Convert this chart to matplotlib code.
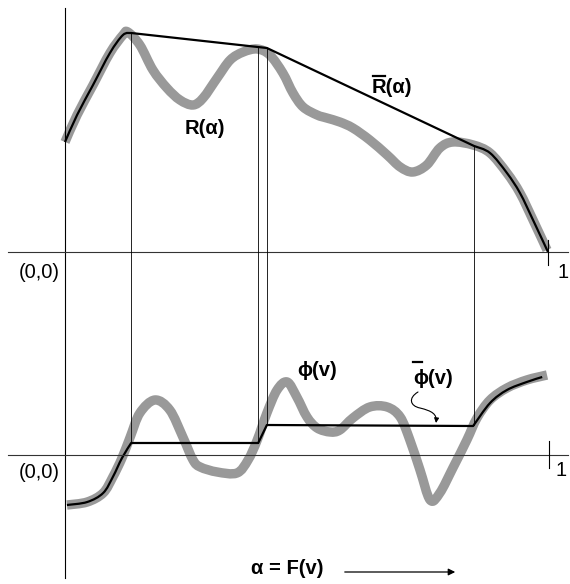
import numpy as np
import matplotlib
matplotlib.use("Agg")
import matplotlib.pyplot as plt
from matplotlib.path import Path
from matplotlib.patches import FancyArrowPatch, PathPatch

plt.rcParams['font.family'] = ['Liberation Sans', 'DejaVu Sans']

# ---- data (alpha in [0,1]) ----
alpha_R = [0.000, 0.025, 0.058, 0.093, 0.120, 0.130, 0.155, 0.182, 0.211,
           0.238, 0.265, 0.286, 0.315, 0.342, 0.369, 0.398, 0.424, 0.451, 0.472,
           0.493, 0.522, 0.542, 0.569, 0.596, 0.631, 0.667, 0.694, 0.720, 0.749,
           0.776, 0.803, 0.845, 0.880, 0.915, 0.942, 0.969, 0.998]
R_vals = [1.10, 1.37, 1.67, 1.99, 2.17, 2.20, 2.07, 1.82, 1.64,
          1.52, 1.47, 1.54, 1.74, 1.92, 2.00, 2.03, 1.97, 1.79, 1.59,
          1.45, 1.37, 1.34, 1.30, 1.24, 1.12, 0.97, 0.85, 0.80, 0.87,
          1.04, 1.10, 1.07, 0.99, 0.79, 0.59, 0.32, 0.02]

alpha_Rbar = [0.000, 0.025, 0.058, 0.093, 0.120, 0.137, 0.418, 0.847,
              0.880, 0.915, 0.942, 0.969, 1.000]
Rbar_vals = [1.10, 1.37, 1.67, 1.99, 2.17, 2.19, 2.04, 1.06,
             0.99, 0.79, 0.59, 0.32, 0.00]
Rbar_corners = [5, 6, 7]

alpha_phi = [0.004, 0.046, 0.079, 0.099, 0.118, 0.135, 0.155, 0.186, 0.217, 0.244,
             0.265, 0.280, 0.315, 0.356, 0.379, 0.398, 0.418, 0.439, 0.460, 0.480,
             0.501, 0.522, 0.549, 0.569, 0.596, 0.631, 0.667, 0.694, 0.714, 0.735,
             0.756, 0.776, 0.803, 0.832, 0.853, 0.880, 0.915, 0.956, 0.998]
phi_vals = [-0.50, -0.47, -0.38, -0.22, -0.03, 0.18, 0.42, 0.55, 0.45, 0.18,
            -0.05, -0.12, -0.17, -0.18, -0.05, 0.15, 0.42, 0.65, 0.73, 0.58,
            0.38, 0.27, 0.23, 0.25, 0.37, 0.48, 0.48, 0.38, 0.15, -0.15,
            -0.45, -0.38, -0.13, 0.15, 0.37, 0.55, 0.67, 0.75, 0.80]

alpha_phibar = [0.004, 0.046, 0.079, 0.099, 0.118, 0.137, 0.400, 0.418, 0.845,
                0.880, 0.915, 0.956, 0.988]
phibar_vals = [-0.50, -0.47, -0.38, -0.22, -0.03, 0.12, 0.12, 0.30, 0.29,
               0.52, 0.65, 0.73, 0.78]
phibar_corners = [5, 6, 7, 8]

alpha_breaks = [0.137, 0.400, 0.418, 0.847]

# ---- layout ----
OFF = 2.03          # vertical offset of the lower panel
GRAY = '#999999'

fig = plt.figure(figsize=(5.70, 5.84), dpi=100)
ax = fig.add_axes([0, 0, 1, 1])
ax.set_xlim(-65 / 483, 505 / 483)
ax.set_ylim(-3.32, 2.52)
ax.axis('off')


def px(x, y):
    return ((x - 65) / 483, (252 - y) / 100)


def smooth_path(xs, ys, corners=()):
    """Catmull-Rom curve through the given points, as Bezier path."""
    pts = np.column_stack([xs, ys]).astype(float)
    n = len(pts)
    cs = set(corners) | {0, n - 1}
    verts = [pts[0]]
    codes = [Path.MOVETO]
    for i in range(n - 1):
        p1, p2 = pts[i], pts[i + 1]
        p0 = p1 if i in cs else pts[i - 1]
        p3 = p2 if (i + 1) in cs else pts[i + 2]
        verts += [p1 + (p2 - p0) / 6, p2 - (p3 - p1) / 6, p2]
        codes += [Path.CURVE4] * 3
    return Path(verts, codes)


def draw_curve(xs, ys, color, lw, corners=(), capstyle='butt'):
    patch = PathPatch(smooth_path(xs, ys, corners), fill=False, edgecolor=color,
                      lw=lw, joinstyle='round', capstyle=capstyle)
    ax.add_patch(patch)


# axes lines
ax.plot([0, 0], [2.44, -3.26], color='black', lw=0.8)
ax.plot([-0.118, 1.041], [0, 0], color='#333333', lw=0.8)
ax.plot([-0.118, 1.041], [-OFF, -OFF], color='#333333', lw=0.8)
ax.plot([1.0, 1.0], [0.12, -0.13], color='black', lw=0.8)
ax.plot([1.002, 1.002], [-OFF + 0.14, -OFF - 0.13], color='black', lw=0.8)

# vertical connecting lines
for a in alpha_breaks:
    top = np.interp(a, alpha_Rbar, Rbar_vals)
    bot = np.interp(a, alpha_phibar, phibar_vals) - OFF
    ax.plot([a, a], [top, bot], color='black', lw=0.6)

# curves
draw_curve(alpha_R, R_vals, GRAY, 6.8)
draw_curve(alpha_Rbar, Rbar_vals, 'black', 1.6, Rbar_corners)
draw_curve(alpha_phi, np.array(phi_vals) - OFF, GRAY, 6.8)
draw_curve(alpha_phibar, np.array(phibar_vals) - OFF, 'black', 1.6, phibar_corners)

# labels
fs = 14.5
ax.text(*px(60, 272), '(0,0)', ha='right', va='center', fontsize=fs)
ax.text(*px(563, 272), '1', ha='center', va='center', fontsize=fs)
ax.text(*px(60, 472), '(0,0)', ha='right', va='center', fontsize=fs)
ax.text(*px(561, 470), '1', ha='center', va='center', fontsize=fs)

ax.text(*px(205, 128), 'R(α)', ha='center', va='center', fontsize=fs, fontweight='bold')
ax.text(*px(392, 87), 'R(α)', ha='center', va='center', fontsize=fs, fontweight='bold')
b0, b1 = px(373, 76), px(385, 76)
ax.plot([b0[0], b1[0]], [b0[1], b1[1]], color='black', lw=1.6)

ax.text(*px(317, 370), 'ϕ(v)', ha='center', va='center', fontsize=fs, fontweight='bold')
ax.text(*px(433, 378), 'ϕ(v)', ha='center', va='center', fontsize=fs, fontweight='bold')
b0, b1 = px(413, 362), px(422, 362)
ax.plot([b0[0], b1[0]], [b0[1], b1[1]], color='black', lw=1.6)

ax.text(*px(287, 569), 'α = F(v)', ha='center', va='center', fontsize=fs, fontweight='bold')
ax.add_patch(FancyArrowPatch(px(342, 572), px(458, 572), arrowstyle='-|>',
                             mutation_scale=10, lw=0.9, color='black'))

verts = [px(418, 392), px(408, 398), px(410, 406), px(420, 408),
         px(432, 411), px(437, 414), px(436, 423)]
codes = [Path.MOVETO, Path.CURVE4, Path.CURVE4, Path.CURVE4,
         Path.CURVE4, Path.CURVE4, Path.CURVE4]
ax.add_patch(FancyArrowPatch(path=Path(verts, codes), arrowstyle='-|>',
                             mutation_scale=7, lw=0.8, color='black'))

fig.savefig('out.png', dpi=100)
